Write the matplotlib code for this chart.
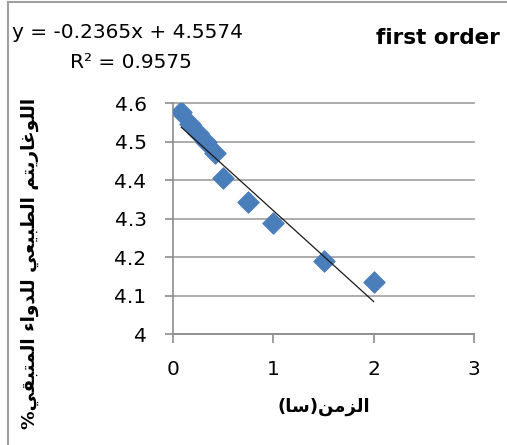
import numpy as np
import matplotlib
matplotlib.use('Agg')
import matplotlib.pyplot as plt
from matplotlib.lines import Line2D

# ---- data ----
time_h = [0.083, 0.167, 0.25, 0.333, 0.417, 0.5, 0.75, 1.0, 1.5, 2.0]
ln_remaining = [4.578, 4.545, 4.522, 4.500, 4.472, 4.405, 4.344, 4.288, 4.190, 4.136]
slope = -0.2365
intercept = 4.5574
r_squared = 0.9575
x_ticks = [0, 1, 2, 3]
x_tick_labels = ['0', '1', '2', '3']
y_ticks = [4.0, 4.1, 4.2, 4.3, 4.4, 4.5, 4.6]
y_tick_labels = ['4', '4.1', '4.2', '4.3', '4.4', '4.5', '4.6']
title = 'first order'
x_label = 'الزمن(سا)'
y_label = 'اللوغاريتم الطبيعي للدواء المتبقي%'

# ---- minimal Arabic shaping (presentation forms + visual order) ----
FORMS = {
    '\u0621': ('\uFE80',),
    '\u0627': ('\uFE8D', '\uFE8E'),
    '\u0628': ('\uFE8F', '\uFE90', '\uFE91', '\uFE92'),
    '\u062A': ('\uFE95', '\uFE96', '\uFE97', '\uFE98'),
    '\u062F': ('\uFEA9', '\uFEAA'),
    '\u0631': ('\uFEAD', '\uFEAE'),
    '\u0632': ('\uFEAF', '\uFEB0'),
    '\u0633': ('\uFEB1', '\uFEB2', '\uFEB3', '\uFEB4'),
    '\u0637': ('\uFEC1', '\uFEC2', '\uFEC3', '\uFEC4'),
    '\u0639': ('\uFEC9', '\uFECA', '\uFECB', '\uFECC'),
    '\u063A': ('\uFECD', '\uFECE', '\uFECF', '\uFED0'),
    '\u0642': ('\uFED5', '\uFED6', '\uFED7', '\uFED8'),
    '\u0644': ('\uFEDD', '\uFEDE', '\uFEDF', '\uFEE0'),
    '\u0645': ('\uFEE1', '\uFEE2', '\uFEE3', '\uFEE4'),
    '\u0646': ('\uFEE5', '\uFEE6', '\uFEE7', '\uFEE8'),
    '\u0648': ('\uFEED', '\uFEEE'),
    '\u064A': ('\uFEF1', '\uFEF2', '\uFEF3', '\uFEF4'),
}


def shape_rtl(text):
    chars = list(text)
    out = []
    for i, c in enumerate(chars):
        if c not in FORMS:
            out.append(c)
            continue
        f = FORMS[c]
        prev = chars[i - 1] if i > 0 else None
        nxt = chars[i + 1] if i + 1 < len(chars) else None
        jp = prev in FORMS and len(FORMS[prev]) == 4 and len(f) >= 2
        jn = len(f) == 4 and nxt in FORMS and len(FORMS[nxt]) >= 2
        if jp and jn:
            out.append(f[3])
        elif jp:
            out.append(f[1])
        elif jn:
            out.append(f[2])
        else:
            out.append(f[0])
    s = ''.join(out)
    s = s.replace('\uFEDF\uFE8E', '\uFEFB').replace('\uFEE0\uFE8E', '\uFEFC')
    mirror = {'(': ')', ')': '('}
    return ''.join(mirror.get(c, c) for c in reversed(s))


W, H = 507, 445
fig = plt.figure(figsize=(W / 100, H / 100), dpi=100)
fig.patch.set_facecolor('white')

L, R, T, B = 173, 474, 103.3, 334
ax = fig.add_axes([L / W, 1 - B / H, (R - L) / W, (B - T) / H])
ax.set_xlim(0, 3)
ax.set_ylim(4.0, 4.6)

axis_gray = '#8C8C8C'
grid_gray = '#A6A6A6'
for s in ['top', 'right']:
    ax.spines[s].set_visible(False)
for s in ['left', 'bottom']:
    ax.spines[s].set_color(axis_gray)
    ax.spines[s].set_linewidth(1.2)

ax.set_xticks(x_ticks)
ax.set_xticklabels(x_tick_labels)
ax.set_yticks(y_ticks)
ax.set_yticklabels(y_tick_labels)
ax.tick_params(axis='x', direction='out', length=6.5, width=1.2, color=axis_gray,
               pad=12, labelsize=14.5, labelcolor='black')
ax.tick_params(axis='y', direction='out', length=6, width=1.2, color=axis_gray,
               pad=13, labelsize=14.5, labelcolor='black')
for lab in ax.get_xticklabels() + ax.get_yticklabels():
    lab.set_fontfamily('DejaVu Sans')

ax.yaxis.grid(True, color=grid_gray, linewidth=1.3)
ax.set_axisbelow(True)
for gl in ax.get_ygridlines():
    gl.set_clip_on(False)

ax.scatter(time_h, ln_remaining, marker='D', s=118, color='#4A7EBB',
           edgecolors='#4A7EBB', linewidths=0.8, zorder=3)

xt = np.array([min(time_h), max(time_h)])
ax.plot(xt, slope * xt + intercept, color='#1a1a1a', linewidth=0.9, zorder=4)

# texts
fig.text(12 / W, 1 - 32 / H, 'y = %.4fx + %.4f' % (slope, intercept),
         fontsize=14.5, ha='left', va='center', family='DejaVu Sans')
fig.text(70 / W, 1 - 62 / H, 'R\u00b2 = %.4f' % r_squared,
         fontsize=14.5, ha='left', va='center', family='DejaVu Sans')
fig.text(500 / W, 1 - 38 / H, title, fontsize=15.5, fontweight='bold',
         ha='right', va='center', family='DejaVu Sans')

fig.text(323.5 / W, 1 - 407 / H, shape_rtl(x_label), fontsize=13, fontweight='bold',
         ha='center', va='center', family='DejaVu Sans')
fig.text(29.5 / W, 1 - 263 / H, shape_rtl(y_label), fontsize=13.3, fontweight='bold',
         rotation=90, ha='center', va='center', family='DejaVu Sans')

# chart border
fig.add_artist(Line2D([8 / W, 8 / W], [0, 1 - 2 / H], transform=fig.transFigure,
                      color='#A0A0A0', linewidth=1.5))
fig.add_artist(Line2D([8 / W, 1], [1 - 2 / H, 1 - 2 / H], transform=fig.transFigure,
                      color='#A0A0A0', linewidth=1.5))

fig.savefig('out.png', dpi=100)
